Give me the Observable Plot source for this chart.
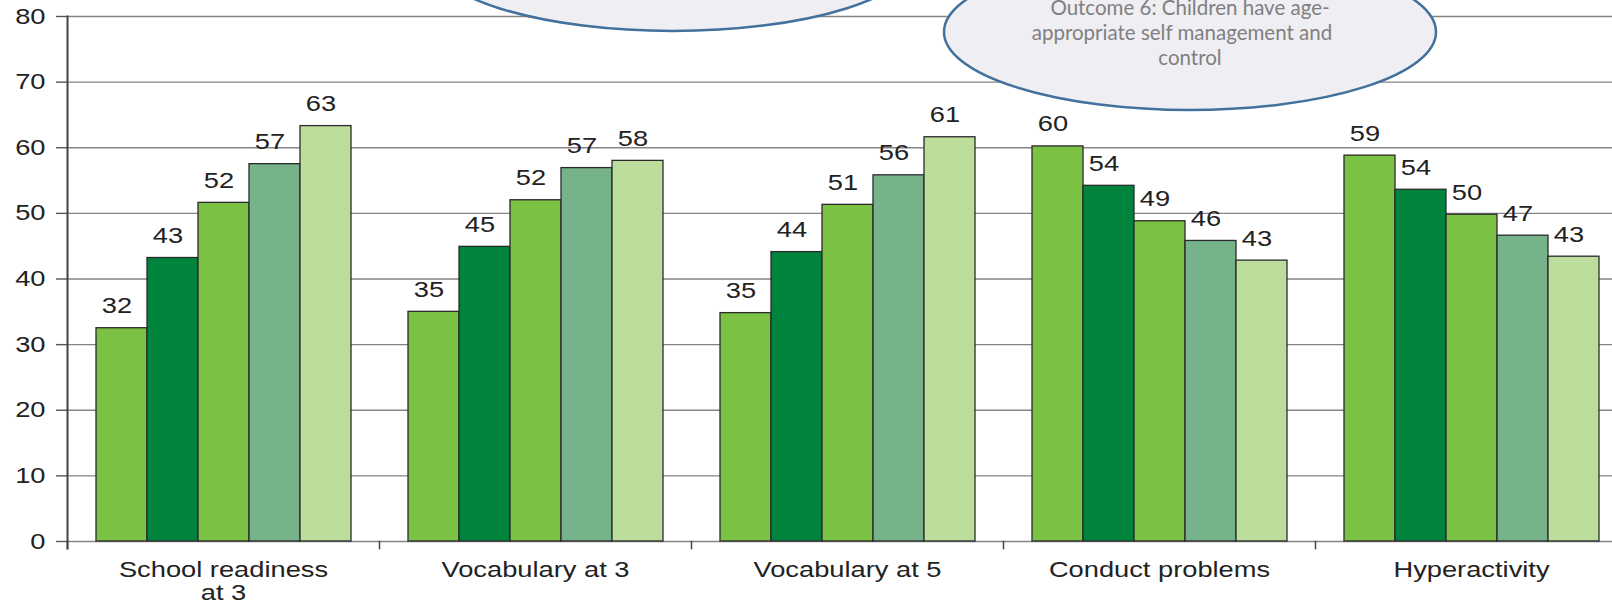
<!DOCTYPE html>
<html><head><meta charset="utf-8">
<script src="https://cdn.jsdelivr.net/npm/d3@7"></script>
<script src="https://cdn.jsdelivr.net/npm/@observablehq/plot@0.6"></script>
<style>
html,body{margin:0;padding:0;background:#fff;}
#wrap{width:1612px;height:606px;overflow:hidden;position:relative;}
</style></head><body><div id="wrap"></div>
<script>
const categories = ["School readiness\nat 3", "Vocabulary at 3", "Vocabulary at 5", "Conduct problems", "Hyperactivity"];
const seriesNames = ["Group 1", "Group 2", "Group 3", "Group 4", "Group 5"];
const seriesColors = ["#7bc143", "#00843d", "#7bc143", "#77b38a", "#bddd9c"];
const group1 = [32.5, 35.0, 34.8, 60.2, 58.8];
const group2 = [43.2, 44.9, 44.1, 54.2, 53.6];
const group3 = [51.6, 52.0, 51.3, 48.8, 49.8];
const group4 = [57.5, 56.9, 55.8, 45.8, 46.6];
const group5 = [63.3, 58.0, 61.6, 42.8, 43.4];
const labels1 = ["32", "35", "35", "60", "59"];
const labels2 = ["43", "45", "44", "54", "54"];
const labels3 = ["52", "52", "51", "49", "50"];
const labels4 = ["57", "57", "56", "46", "47"];
const labels5 = ["63", "58", "61", "43", "43"];
const yTicks = [0, 10, 20, 30, 40, 50, 60, 70, 80];
const calloutLines = ["Outcome 6: Children have age-", "appropriate self management and", "control"];

const seriesValues = [group1, group2, group3, group4, group5];
const seriesLabels = [labels1, labels2, labels3, labels4, labels5];
const rows = [];
seriesNames.forEach((s, si) => categories.forEach((c, ci) => rows.push({
  category: c, series: s, value: seriesValues[si][ci], label: seriesLabels[si][ci]
})));

const ink = "#222";
const plot = Plot.plot({
  width: 1627, height: 606,
  marginLeft: 66, marginRight: 0, marginTop: 16, marginBottom: 65,
  style: {maxWidth: "none", fontFamily: "'Liberation Sans', Arial, sans-serif", fontSize: "22px", color: ink, background: "#fff"},
  facet: {marginTop: 0, marginRight: 0, marginBottom: 0, marginLeft: 0},
  fx: {domain: categories, padding: 0, label: null, axis: null},
  x: {domain: seriesNames, paddingInner: 0, paddingOuter: 0.52, axis: null},
  y: {domain: [0, 80], label: null, axis: null},
  color: {domain: seriesNames, range: seriesColors},
  marks: [
    Plot.gridY({ticks: yTicks, stroke: "#858585", strokeOpacity: 1, strokeWidth: 1.4}),
    Plot.axisY({ticks: yTicks, tickSize: 11, tickPadding: 11, stroke: "#555", strokeWidth: 1.4, fontSize: 22, fill: ink, label: null}),
    Plot.barY(rows, {fx: "category", x: "series", y: "value", fill: "series", stroke: "#2a2a2a", strokeWidth: 1.3}),
    Plot.text(rows, {fx: "category", x: "series", y: "value", text: "label", lineAnchor: "bottom", dy: -15, dx: -5, fontSize: 22, fill: ink}),
    Plot.frame({anchor: "left", facetAnchor: "left", stroke: "#444", strokeWidth: 2, insetBottom: -7}),
    Plot.frame({anchor: "left", stroke: "#444", strokeWidth: 1.5, insetTop: 525, insetBottom: -7}),
    Plot.axisFx({anchor: "bottom", tickSize: 0, tickPadding: 19, fontSize: 22, lineHeight: 1.05, fill: ink, label: null})
  ]
});

// horizontally widen chart text to match the stretched original lettering
d3.select(plot).selectAll("text").each(function() {
  const t = d3.select(this);
  const tr = t.attr("transform") || "";
  t.attr("transform", (tr + " scale(1.24,1)").trim());
});

// callout ellipses (annotation overlay)
const svg = d3.select(plot);
const callouts = [
  {cx: 673, cy: -46, rx: 245, ry: 77, lines: []},
  {cx: 1190, cy: 32, rx: 246, ry: 78, lines: calloutLines}
];
callouts.forEach(c => {
  svg.append("ellipse")
    .attr("cx", c.cx).attr("cy", c.cy).attr("rx", c.rx).attr("ry", c.ry)
    .attr("fill", "#efeef2").attr("stroke", "#41719c").attr("stroke-width", 2.5);
  c.lines.forEach((line, i) => {
    svg.append("text")
      .attr("x", i === 1 ? c.cx - 8 : c.cx).attr("y", 10 + i * 25)
      .attr("text-anchor", "middle").attr("dominant-baseline", "middle")
      .attr("font-family", "Lato, 'Liberation Sans', sans-serif").attr("font-size", 20.5)
      .attr("fill", "#808080").text(line);
  });
});

document.getElementById("wrap").appendChild(plot);
</script></body></html>
